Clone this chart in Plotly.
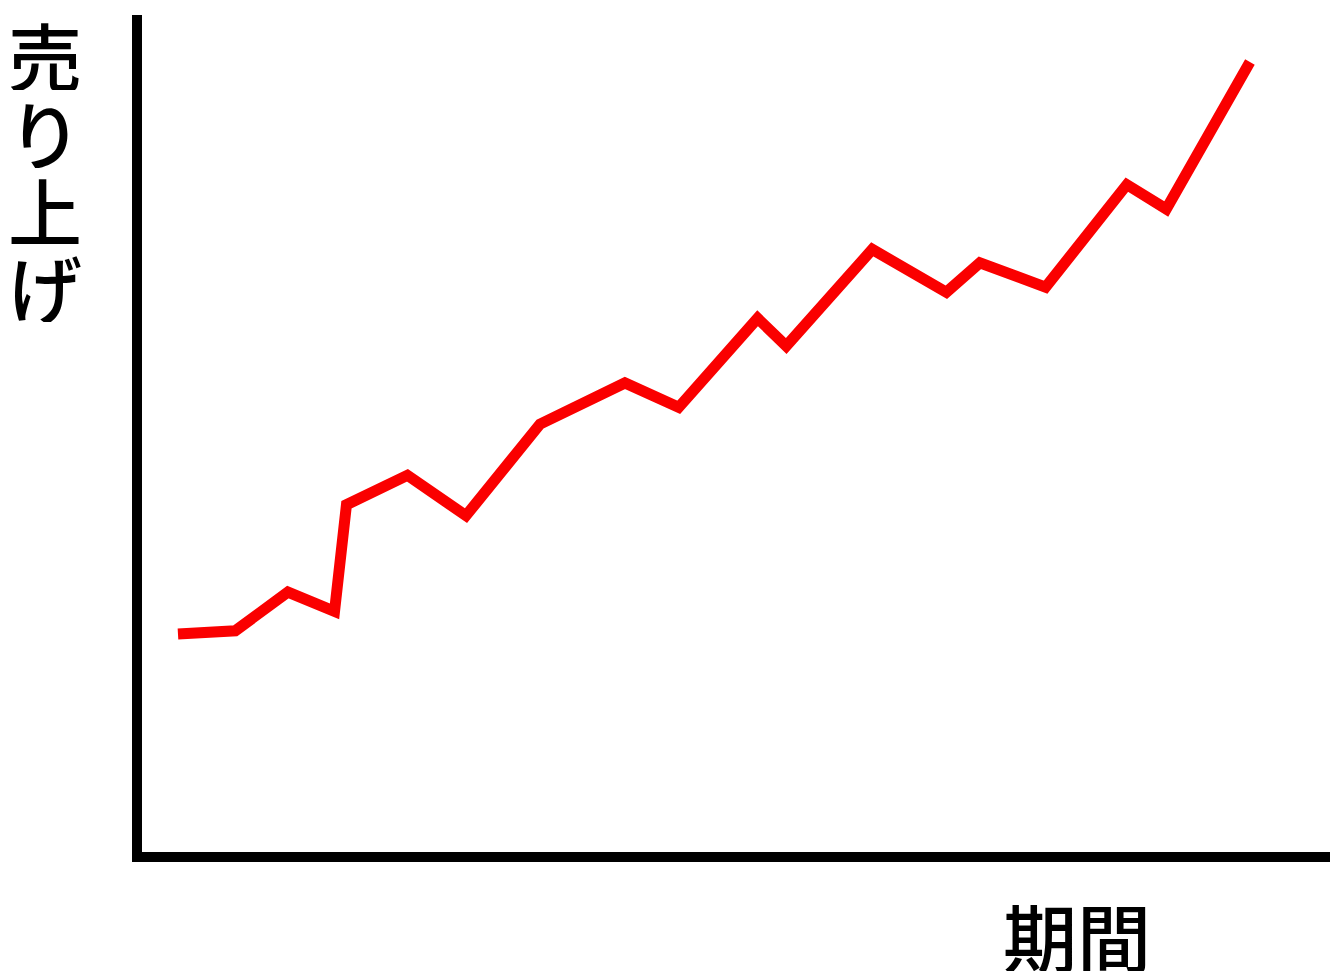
import plotly.graph_objects as go

# Data (arbitrary units)
period = [3.6, 8.4, 12.8, 16.7, 17.7, 22.8, 27.7, 33.9, 41.0, 45.5,
          52.1, 54.5, 61.7, 67.9, 70.7, 76.2, 83.0, 86.3, 93.3]
sales = [26.3, 26.7, 31.3, 29.0, 41.7, 45.2, 40.4, 51.3, 56.2, 53.3,
         63.9, 60.6, 72.1, 67.0, 70.5, 67.6, 79.8, 76.9, 94.4]
y_label_chars = ["売", "り", "上", "げ"]
x_label = "期間"

W, H = 1334, 973
L, R, T, B = 142, 4, 15, 121
pw, ph = W - L - R, H - T - B

def px_x(p):
    return (p - L) / pw

def px_y(p):
    return (H - B - p) / ph

fig = go.Figure()
fig.add_trace(go.Scatter(
    x=period, y=sales, mode="lines",
    line=dict(color="#fa0000", width=11, shape="linear"),
    hoverinfo="skip", showlegend=False,
))

font = dict(family="Noto Sans CJK JP", size=74, color="black", weight=500)
ann = []
for i, ch in enumerate(y_label_chars):
    ann.append(dict(text=ch, xref="paper", yref="paper",
                    x=px_x(45), y=px_y(53 + i * 77.5),
                    xanchor="center", yanchor="middle", height=74,
                    showarrow=False, font=font))
ann.append(dict(text=x_label, xref="paper", yref="paper",
                x=px_x(1077), y=px_y(934),
                xanchor="center", yanchor="middle", height=74,
                showarrow=False, font=font))

fig.update_layout(
    width=W, height=H,
    margin=dict(l=L, r=R, t=T, b=B, pad=0),
    paper_bgcolor="white", plot_bgcolor="white",
    xaxis=dict(range=[0.59, 100], showgrid=False, zeroline=False,
               showticklabels=False, ticks="", showline=True,
               linecolor="black", linewidth=10, mirror=False),
    yaxis=dict(range=[0.36, 100], showgrid=False, zeroline=False,
               showticklabels=False, ticks="", showline=True,
               linecolor="black", linewidth=10, mirror=False),
    annotations=ann,
)

fig.write_html("out.html",
               config={"displayModeBar": False},
               post_script="document.body.style.margin='0';"
                           "document.body.style.overflow='hidden';")
